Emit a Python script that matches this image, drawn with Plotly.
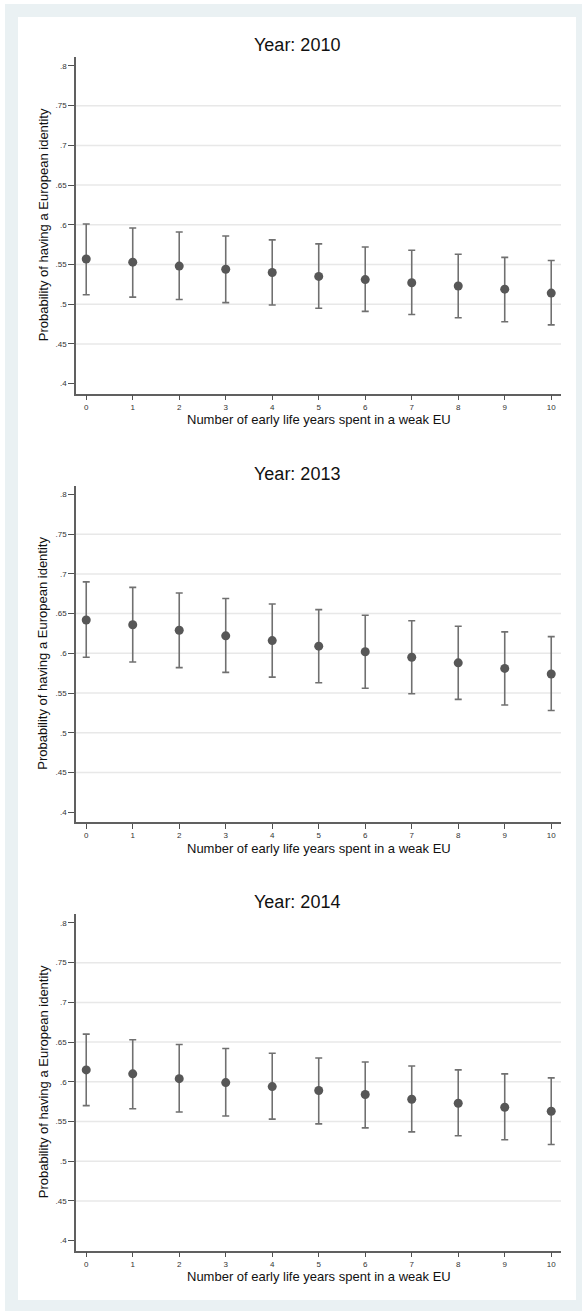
import plotly.graph_objects as go

# Predicted probabilities with 95% confidence limits by years spent in a weak EU
years_weak_eu = [0, 1, 2, 3, 4, 5, 6, 7, 8, 9, 10]
panel_titles = ["Year: 2010", "Year: 2013", "Year: 2014"]

est_2010 = [0.557, 0.553, 0.548, 0.544, 0.540, 0.535, 0.531, 0.527, 0.523, 0.519, 0.514]
lo_2010 = [0.512, 0.509, 0.506, 0.502, 0.499, 0.495, 0.491, 0.487, 0.483, 0.478, 0.474]
hi_2010 = [0.601, 0.596, 0.591, 0.586, 0.581, 0.576, 0.572, 0.568, 0.563, 0.559, 0.555]

est_2013 = [0.642, 0.636, 0.629, 0.622, 0.616, 0.609, 0.602, 0.595, 0.588, 0.581, 0.574]
lo_2013 = [0.595, 0.589, 0.582, 0.576, 0.570, 0.563, 0.556, 0.549, 0.542, 0.535, 0.528]
hi_2013 = [0.690, 0.683, 0.676, 0.669, 0.662, 0.655, 0.648, 0.641, 0.634, 0.627, 0.621]

est_2014 = [0.615, 0.610, 0.604, 0.599, 0.594, 0.589, 0.584, 0.578, 0.573, 0.568, 0.563]
lo_2014 = [0.570, 0.566, 0.562, 0.557, 0.553, 0.547, 0.542, 0.537, 0.532, 0.527, 0.521]
hi_2014 = [0.660, 0.653, 0.647, 0.642, 0.636, 0.630, 0.625, 0.620, 0.615, 0.610, 0.605]

y_tick_vals = [0.4, 0.45, 0.5, 0.55, 0.6, 0.65, 0.7, 0.75, 0.8]
y_tick_text = [".4", ".45", ".5", ".55", ".6", ".65", ".7", ".75", ".8"]
x_title = "Number of early life years spent in a weak EU"
y_title = "Probability of having a European identity"

panels = [
    (est_2010, lo_2010, hi_2010),
    (est_2013, lo_2013, hi_2013),
    (est_2014, lo_2014, hi_2014),
]

W, H = 582, 1311
FONT = "Liberation Sans, Arial, Helvetica, sans-serif"
BLUEGRAY = "#EAF1F3"


def px_x(p):
    return p / W


def px_y(p):
    return 1 - p / H


fig = go.Figure()
shapes = []
annotations = []

# background frame and white inner region
shapes.append(dict(type="rect", xref="paper", yref="paper", x0=px_x(5), x1=1,
                   y0=0, y1=px_y(4), fillcolor=BLUEGRAY, line=dict(width=0), layer="below"))
shapes.append(dict(type="rect", xref="paper", yref="paper", x0=px_x(18), x1=px_x(576),
                   y0=px_y(1300), y1=px_y(17), fillcolor="white", line=dict(width=0), layer="below"))

plot_left, plot_right = 76, 561
panel_tops = [57, 485.5, 914]
panel_h = 336.5

for i, ((est, lo, hi), title) in enumerate(zip(panels, panel_titles)):
    n = i + 1
    xa = "x" if n == 1 else f"x{n}"
    ya = "y" if n == 1 else f"y{n}"
    top = panel_tops[i]
    bottom = top + panel_h

    plus = [h - e for h, e in zip(hi, est)]
    minus = [e - l for e, l in zip(est, lo)]
    fig.add_trace(go.Scatter(
        x=years_weak_eu, y=est, mode="markers", xaxis=xa, yaxis=ya,
        marker=dict(size=9, color="#575757"),
        error_y=dict(type="data", symmetric=False, array=plus, arrayminus=minus,
                     color="#707070", thickness=1.6, width=3.5),
        showlegend=False, hoverinfo="x+y",
    ))

    axis_common = dict(showline=True, linecolor="#606060", linewidth=1.5,
                       ticks="outside", tickcolor="#505050", tickwidth=1,
                       showgrid=False, zeroline=False,
                       tickfont=dict(family=FONT, size=8, color="#333333"))
    fig.update_layout(**{
        ("xaxis" if n == 1 else f"xaxis{n}"): dict(
            axis_common, domain=[px_x(plot_left), px_x(plot_right)],
            range=[-0.22, 10.21], tickvals=years_weak_eu,
            ticktext=[str(v) for v in years_weak_eu], ticklen=5,
            anchor=ya),
        ("yaxis" if n == 1 else f"yaxis{n}"): dict(
            axis_common, domain=[px_y(bottom), px_y(top)],
            range=[0.3876, 0.8113], tickvals=y_tick_vals, ticktext=y_tick_text,
            ticklen=6, anchor=xa),
    })

    # horizontal grid lines inside the axis extremes
    for v in y_tick_vals[1:-1]:
        shapes.append(dict(type="line", xref=f"{xa} domain", yref=ya,
                           x0=0, x1=1, y0=v, y1=v,
                           line=dict(color="#E8E8E8", width=1.5), layer="below"))

    annotations.append(dict(text=title, xref="paper", yref="paper",
                            x=px_x(297), y=px_y(top - 12), xanchor="center", yanchor="middle",
                            showarrow=False, font=dict(family=FONT, size=18, color="#111111")))
    annotations.append(dict(text=x_title, xref="paper", yref="paper",
                            x=px_x((plot_left + plot_right) / 2), y=px_y(bottom + 26),
                            xanchor="center", yanchor="middle", showarrow=False,
                            font=dict(family=FONT, size=13, color="#111111")))
    annotations.append(dict(text=y_title, xref="paper", yref="paper", textangle=-90,
                            x=px_x(43), y=px_y((top + bottom) / 2),
                            xanchor="center", yanchor="middle", showarrow=False,
                            font=dict(family=FONT, size=13, color="#111111")))

fig.update_layout(
    width=W, height=H,
    margin=dict(l=0, r=0, t=0, b=0),
    paper_bgcolor="white", plot_bgcolor="rgba(0,0,0,0)",
    shapes=shapes, annotations=annotations,
    font=dict(family=FONT),
)

fig.write_html("out.html")
